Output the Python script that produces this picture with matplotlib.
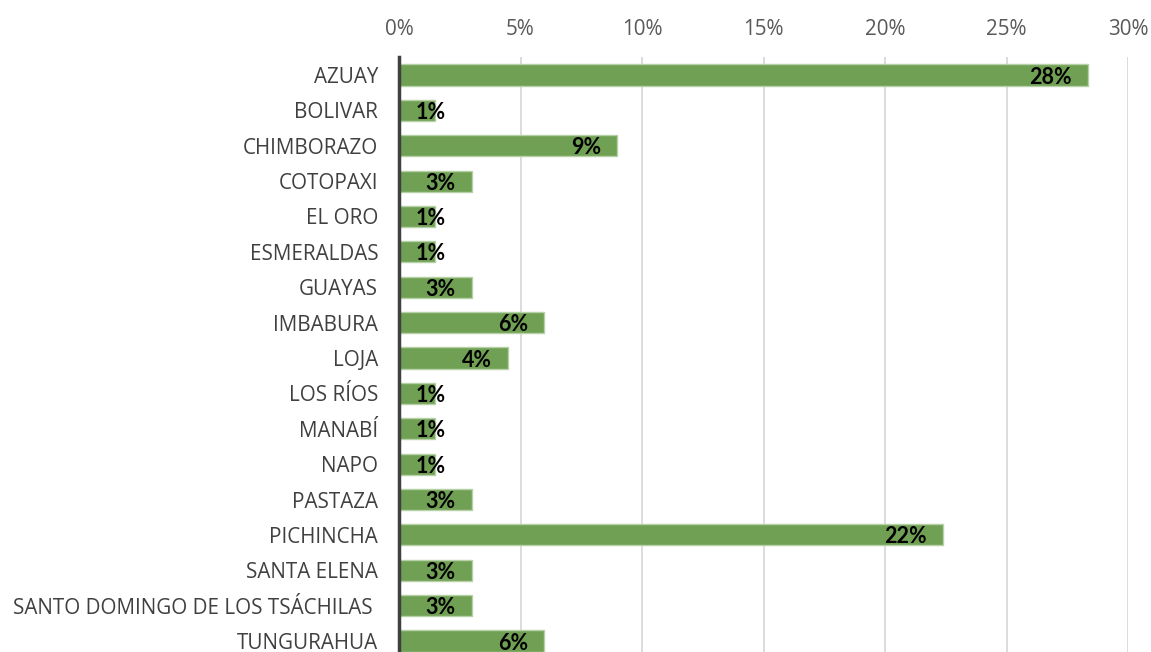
import matplotlib.pyplot as plt
from matplotlib.ticker import FuncFormatter

provincias = ['AZUAY', 'BOLIVAR', 'CHIMBORAZO', 'COTOPAXI', 'EL ORO', 'ESMERALDAS',
              'GUAYAS', 'IMBABURA', 'LOJA', 'LOS RÍOS', 'MANABÍ', 'NAPO', 'PASTAZA',
              'PICHINCHA', 'SANTA ELENA', 'SANTO DOMINGO DE LOS TSÁCHILAS ', 'TUNGURAHUA']
porcentajes = [28.36, 1.49, 8.96, 2.99, 1.49, 1.49, 2.99, 5.97, 4.48, 1.49, 1.49, 1.49,
               2.99, 22.39, 2.99, 2.99, 5.97]
etiquetas = ['28%', '1%', '9%', '3%', '1%', '1%', '3%', '6%', '4%', '1%', '1%', '1%',
             '3%', '22%', '3%', '3%', '6%']
x_ticks = [0, 5, 10, 15, 20, 25, 30]

fig = plt.figure(figsize=(11.51, 6.52), dpi=100)
ax = fig.add_axes([399 / 1151, 1 - 658.7 / 652, 729 / 1151, 601.4 / 652])

y = list(range(len(provincias)))
ax.barh(y, porcentajes, height=0.6, color='#70a054', edgecolor='#b5d1a5', linewidth=1, zorder=2)

# etiquetas de datos: dentro del extremo, o desde el eje si la barra es corta
for yi, v, lab in zip(y, porcentajes, etiquetas):
    if v < 2:
        ax.annotate(lab, (0, yi), xytext=(12, -1.5), textcoords='offset points',
                    ha='left', va='center', fontsize=15.5, fontweight='bold',
                    family='Lato', color='black', zorder=3)
    else:
        ax.annotate(lab, (v, yi), xytext=(-11.5, -1.5), textcoords='offset points',
                    ha='right', va='center', fontsize=15.5, fontweight='bold',
                    family='Lato', color='black', zorder=3)

ax.set_xlim(0, 30)
ax.set_ylim(len(provincias) - 0.5, -0.5)
ax.set_yticks(y)
ax.set_yticklabels(provincias, family='Open Sans', fontsize=14.9, color='#404040')
ax.set_xticks(x_ticks)
ax.xaxis.set_major_formatter(FuncFormatter(lambda v, p: f'{v:.0f}%'))
ax.xaxis.tick_top()
for t in ax.get_xticklabels():
    t.set_family('Open Sans')
    t.set_fontsize(14.9)
    t.set_color('#595959')
ax.tick_params(axis='x', length=0, pad=12.5)
ax.tick_params(axis='y', length=0, pad=15)

ax.grid(axis='x', color='#d9d9d9', linewidth=1.3, zorder=0)
for s in ['top', 'right', 'bottom']:
    ax.spines[s].set_visible(False)
ax.spines['left'].set_color('#404040')
ax.spines['left'].set_linewidth(2.5)
ax.spines['left'].set_zorder(4)

fig.savefig('out.png', dpi=100)
